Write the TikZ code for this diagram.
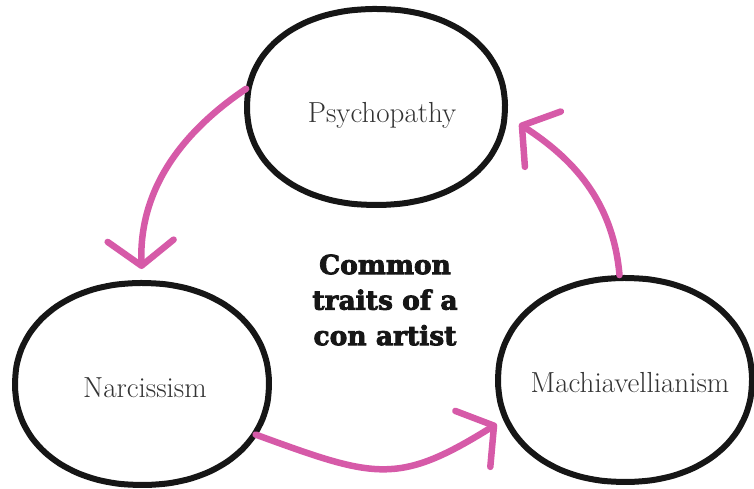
\documentclass[tikz,border=0pt]{standalone}
\usepackage{fontspec}
\newfontfamily\slabfont{DejaVu Serif}[BoldFeatures={FakeBold=3}]
\usetikzlibrary{shapes.geometric,arrows.meta}
\definecolor{arrowpink}{HTML}{D65AA8}
\definecolor{labelgray}{HTML}{333333}
\definecolor{inkblack}{HTML}{161616}
\tikzset{
  trait/.style={ellipse, draw=none, inner sep=0pt, outer sep=3pt},
  outline/.style={draw=inkblack, line width=6pt, line join=round},
  traitlabel/.style={text=labelgray, font=\fontsize{29}{32}\selectfont, inner sep=0pt},
  flow/.style={draw=arrowpink, line width=6.5pt, line cap=round,
    -{Straight Barb[round, length=25pt, width=66pt]}},
  title/.style={align=center, text=inkblack, font=\slabfont\bfseries\fontsize{26.5}{35.5}\selectfont}
}
\begin{document}
\begin{tikzpicture}[x=1pt,y=1pt]
\useasboundingbox (0,0) rectangle (754,489);
\node[trait, minimum width=258pt, minimum height=196pt] (psy) at (376,382) {};
\node[trait, minimum width=254pt, minimum height=202pt] (nar) at (142,105) {};
\node[trait, minimum width=254pt, minimum height=204pt] (mach) at (625,109) {};
\begin{scope}[shift={(psy.center)}]
  \draw[outline] plot[domain=1:351, samples=36, smooth cycle] ({129*sign(cos(\x))*abs(cos(\x))^0.93}, {98*sign(sin(\x))*abs(sin(\x))^0.93});
\end{scope}
\begin{scope}[shift={(nar.center)}]
  \draw[outline] plot[domain=1:351, samples=36, smooth cycle] ({127*sign(cos(\x))*abs(cos(\x))^0.94}, {101*sign(sin(\x))*abs(sin(\x))^0.94});
\end{scope}
\begin{scope}[shift={(mach.center)}]
  \draw[outline] plot[domain=1:351, samples=36, smooth cycle] ({127*sign(cos(\x))*abs(cos(\x))^0.94}, {102*sign(sin(\x))*abs(sin(\x))^0.94});
\end{scope}
\node[traitlabel] (psyl) at (382,374) {Psychopathy};
\node[traitlabel] (narl) at (145,101) {Narcissism};
\node[traitlabel] (machl) at (630,106) {Machiavellianism};
\node[title] (ttl) at (385,189) {Common\\traits of a\\con artist};
\draw[flow, shorten >=11pt] (psy.172) to[out=214,in=92] (nar.north);
\draw[flow, shorten >=9pt] (nar.-24) to[out=-20,in=212,looseness=1.3] (mach.198.6);
\draw[flow, shorten >=14pt] (mach.93) to[out=95,in=-33] (psy.-4);
\end{tikzpicture}
\end{document}
